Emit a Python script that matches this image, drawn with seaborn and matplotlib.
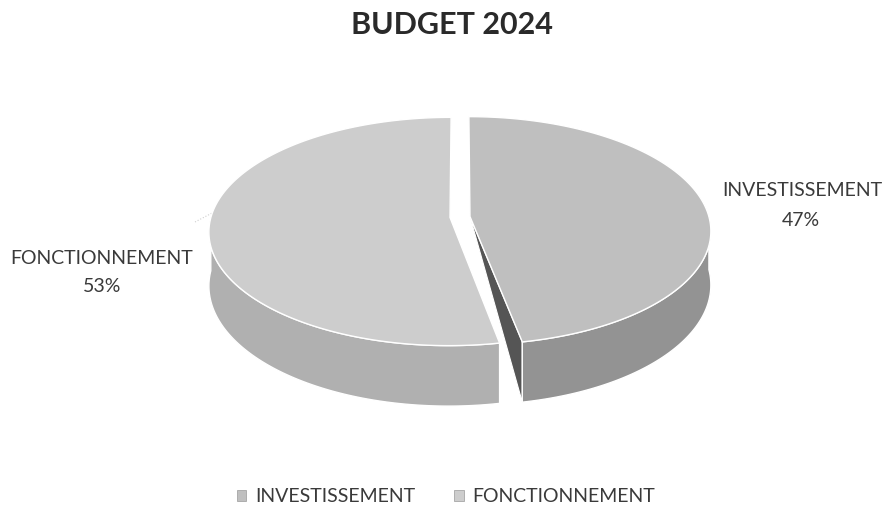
import numpy as np
import matplotlib
matplotlib.use("Agg")
import matplotlib.pyplot as plt
from matplotlib.patches import Polygon, Patch
import seaborn as sns

# Budget split (percent)
categories = ["INVESTISSEMENT", "FONCTIONNEMENT"]
shares = [47, 53]
title = "BUDGET 2024"

sns.set_theme(style="white")
plt.rcParams["font.family"] = ["Lato", "DejaVu Sans"]

top_colors = ["#bfbfbf", "#cdcdcd"]
side_colors = ["#939393", "#b0b0b0"]
cut_color = "#555555"
text_color = "#3a3a3a"

fig = plt.figure(figsize=(8.83, 5.12), dpi=100)
ax = fig.add_axes([0, 0, 1, 1])
ax.set_xlim(0, 883)
ax.set_ylim(512, 0)
ax.axis("off")

# Tilted disc seen in perspective: unit-disc coords (u right, v toward viewer)
cx, cy = 460, 217
A, B = 239, 112.3
persp = 0.123
depth = 53
explode = 0.042


def project(u, v):
    s = 1.0 / (1.0 - persp * v)
    return cx + A * u * s, cy + B * v * s, s


def rim_pts(theta, off, drop=False):
    u = off[0] + np.cos(theta)
    v = off[1] - np.sin(theta)
    x, y, s = project(u, v)
    if drop:
        y = y + depth * s
    return np.column_stack([x, y])


def centre_pt(off, drop=False):
    x, y, s = project(off[0], off[1])
    return np.array([x, y + (depth * s if drop else 0.0)])


# slice angles: start at 12 o'clock, clockwise
total = float(sum(shares))
start = np.pi / 2
spans, offs = [], []
for v in shares:
    sweep = 2 * np.pi * v / total
    a0, a1 = start - sweep, start
    mid = (a0 + a1) / 2
    spans.append((a0, a1))
    offs.append((explode * np.cos(mid), -explode * np.sin(mid)))
    start -= sweep


def wall(a0, a1, off, color, z):
    th = np.linspace(a0, a1, 600)
    th = th[np.sin(th) <= 1e-9]  # front half only
    if len(th) < 2:
        return
    pts = np.vstack([rim_pts(th, off), rim_pts(th[::-1], off, drop=True)])
    ax.add_patch(Polygon(pts, closed=True, facecolor=color,
                         edgecolor="white", linewidth=1.0, zorder=z))


def top(a0, a1, off, color, z):
    th = np.linspace(a0, a1, 600)
    pts = np.vstack([centre_pt(off), rim_pts(th, off)])
    ax.add_patch(Polygon(pts, closed=True, facecolor=color,
                         edgecolor="white", linewidth=1.0, zorder=z))


# INVESTISSEMENT (right): exposed cut face, outer wall, top
(a0, a1), off = spans[0], offs[0]
edge_top = rim_pts(np.array([a0]), off)[0]
edge_bot = rim_pts(np.array([a0]), off, drop=True)[0]
ax.add_patch(Polygon(np.array([centre_pt(off), edge_top, edge_bot]), closed=True,
                     facecolor=cut_color, edgecolor="white", linewidth=0.8, zorder=1))
wall(a0, a1, off, side_colors[0], 2)
top(a0, a1, off, top_colors[0], 3)

# FONCTIONNEMENT (left): outer wall, top
(b0, b1), off = spans[1], offs[1]
wall(b0 + 2 * np.pi, b1 + 2 * np.pi, off, side_colors[1], 4)
top(b0, b1, off, top_colors[1], 5)

# data labels
lbl_kw = dict(ha="center", va="center", color=text_color, fontsize=14, zorder=6)
ax.text(802, 190, categories[0], **lbl_kw)
ax.text(801, 221, f"{shares[0]}%", **lbl_kw)
ax.text(102, 258, categories[1], **lbl_kw)
ax.text(102, 287, f"{shares[1]}%", **lbl_kw)
ax.plot([195, 214], [222, 212], color="#cfcfcf", lw=0.8, ls=":", zorder=1)

ax.text(452, 25, title, ha="center", va="center", fontsize=22,
        fontweight="bold", color="#2a2a2a")

handles = [Patch(facecolor=top_colors[i], edgecolor="#9a9a9a", linewidth=0.5)
           for i in range(2)]
leg = fig.legend(handles, categories, loc="center", bbox_to_anchor=(0.505, 1 - 497 / 512),
                 ncol=2, frameon=False, fontsize=14, handlelength=0.5,
                 handleheight=0.5, handletextpad=0.45, columnspacing=2.0)
for t in leg.get_texts():
    t.set_color(text_color)

fig.savefig("out.png", dpi=100, facecolor="white")
